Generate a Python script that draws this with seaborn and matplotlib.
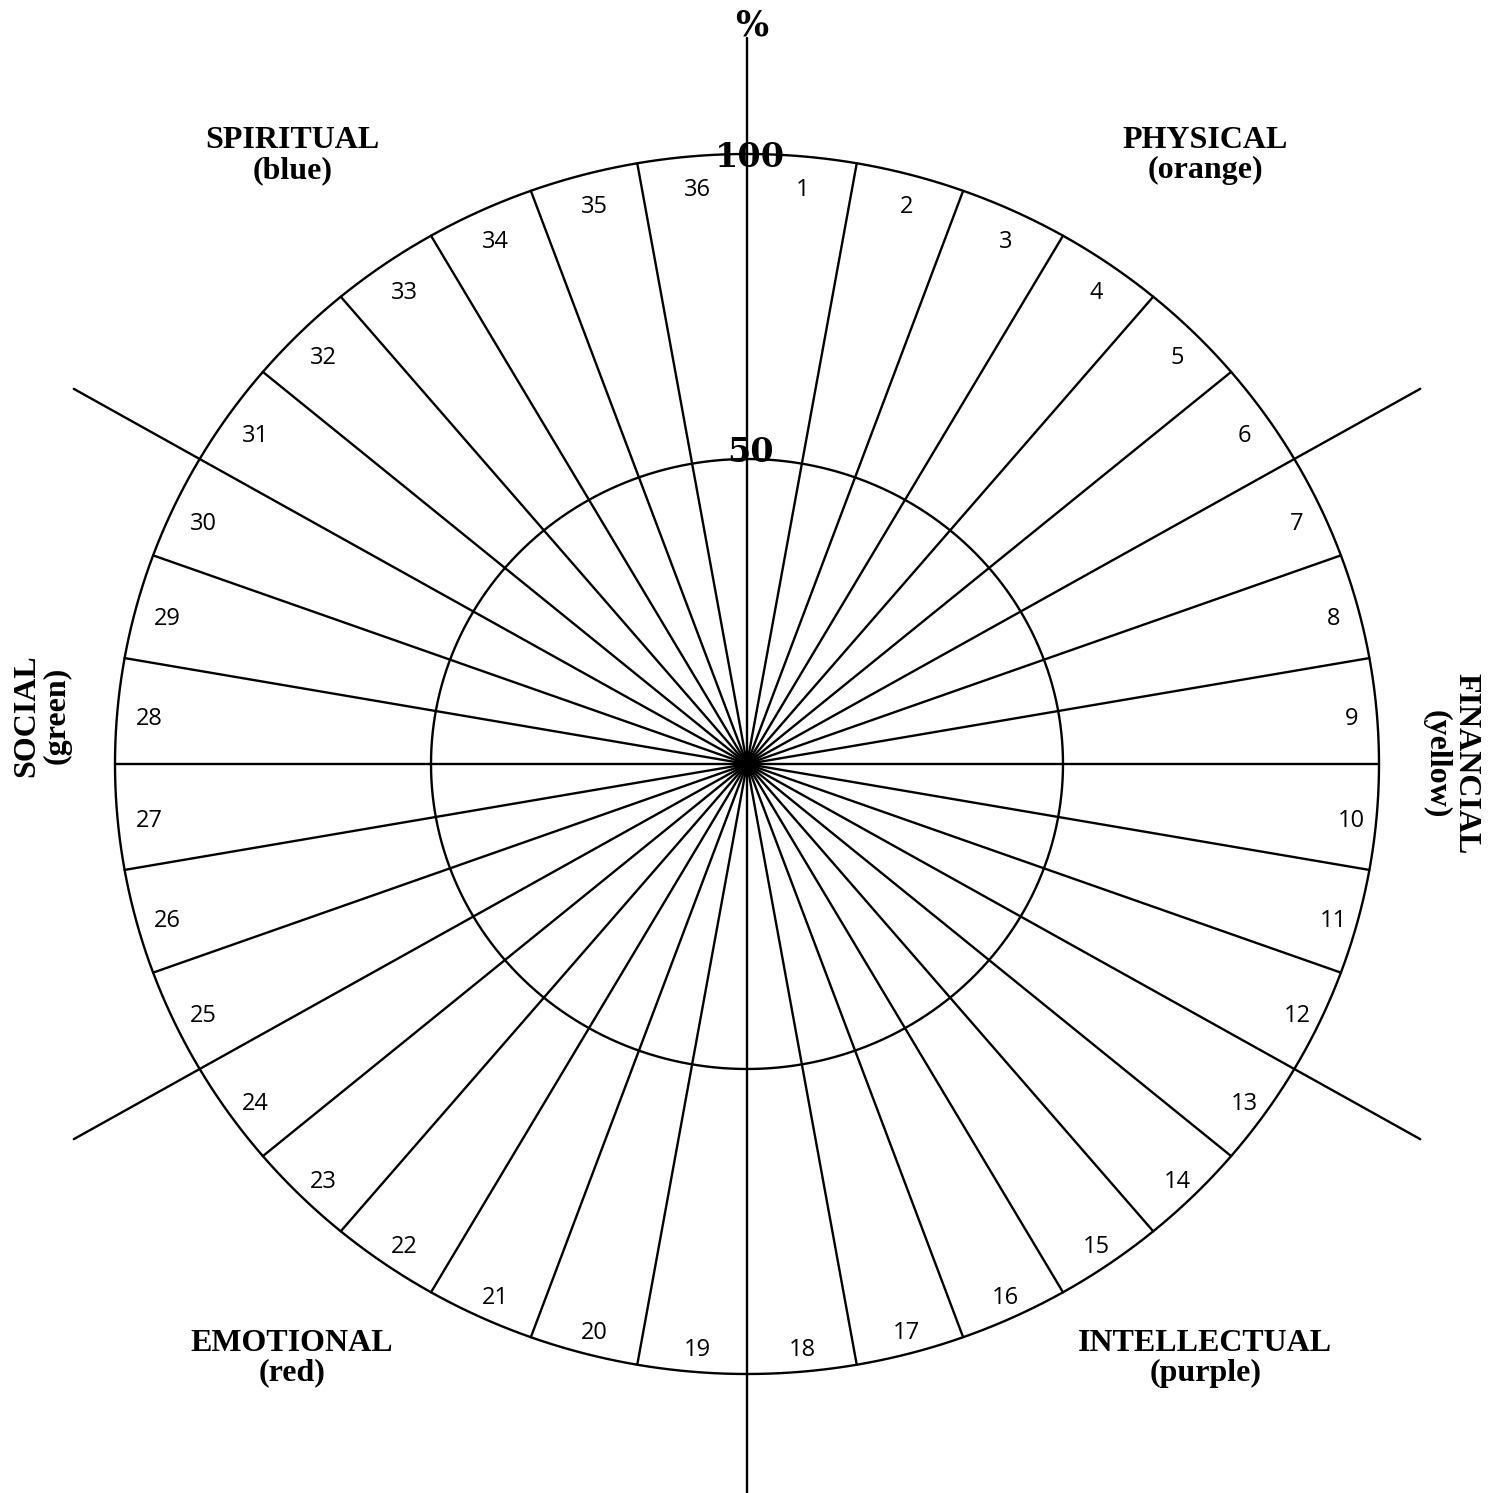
import numpy as np
import pandas as pd
import matplotlib.pyplot as plt
import seaborn as sns

sns.set_theme(style="white")

# 36 segments numbered clockwise from the top
segments = list(range(1, 37))
# six life areas, six segments each (clockwise from the top)
areas = ["PHYSICAL", "FINANCIAL", "INTELLECTUAL", "EMOTIONAL", "SOCIAL", "SPIRITUAL"]
area_colors = ["(orange)", "(yellow)", "(purple)", "(red)", "(green)", "(blue)"]
# rings in percent
rings = [50, 100]
ring_labels = ["50", "100"]

# pixel scale (wheel is a bit wider than tall in the picture)
SX, SY = 6.32, 6.10
W, H = 1498, 1493
CX, CY = 747, 764


def polar(theta_deg, r):
    t = np.radians(theta_deg)
    return r * np.sin(t), r * np.cos(t)


fig = plt.figure(figsize=(W / 100, H / 100), dpi=100)
ax = fig.add_axes([0, 0, 1, 1])
ax.set_xlim(-CX / SX, (W - CX) / SX)
ax.set_ylim(-(H - CY) / SY, CY / SY)
ax.axis("off")

# 1) rings
theta = np.linspace(0, 360, 721)
ring_rows = []
for r in rings:
    x, y = polar(theta, r)
    ring_rows.append(pd.DataFrame({"x": x, "y": y, "line": f"ring{r}"}))
ring_df = pd.concat(ring_rows, ignore_index=True)
sns.lineplot(data=ring_df, x="x", y="y", units="line", estimator=None,
             sort=False, color="black", linewidth=1.7, ax=ax)

# 2) spokes between segments (area boundaries drawn separately)
spoke_rows = []
for k in range(len(segments)):
    if k % 6 == 0:
        continue
    x, y = polar(np.array([10 * k, 10 * k]), np.array([0, rings[-1]]))
    spoke_rows.append(pd.DataFrame({"x": x, "y": y, "line": f"s{k}"}))

# 3) area boundaries extend past the wheel
bound_ext = [119, 123, 123, 126, 123, 123]
for i, ext in enumerate(bound_ext):
    x, y = polar(np.array([60 * i, 60 * i]), np.array([0, ext]))
    spoke_rows.append(pd.DataFrame({"x": x, "y": y, "line": f"b{i}"}))
spoke_df = pd.concat(spoke_rows, ignore_index=True)
sns.lineplot(data=spoke_df, x="x", y="y", units="line", estimator=None,
             sort=False, color="black", linewidth=1.7, ax=ax)

# 4) segment numbers
for n in segments:
    x, y = polar(10 * (n - 1) + 5, 95.5)
    ax.text(x + 0.5, y - 1.0, str(n), ha="center", va="center", fontsize=17,
            family="Open Sans", color="black")

# 5) ring values and % mark
ring_dy = [1.0, -0.6]
for r, lab, dy in zip(rings, ring_labels, ring_dy):
    ax.text(0.5, r + dy, lab, ha="center", va="center", fontsize=24,
            family="DejaVu Serif", fontweight="bold", color="black")
ax.text(0.8, 121.0, "%", ha="center", va="center", fontsize=25,
        family="DejaVu Serif", fontweight="bold", color="black")

# 6) area names
area_pos = [(72.5, 99.8, 0), (111.4, 0.0, -90), (72.5, -97.4, 0),
            (-72.0, -97.4, 0), (-111.6, 8.0, 90), (-71.9, 99.8, 0)]
for name, col, (x, y, rot) in zip(areas, area_colors, area_pos):
    ax.text(x, y, f"{name}\n{col}", ha="center", va="center", fontsize=23,
            family="Liberation Serif", fontweight="bold", rotation=rot,
            linespacing=1.05, color="black")

fig.savefig("out.png", dpi=100, facecolor="white")
